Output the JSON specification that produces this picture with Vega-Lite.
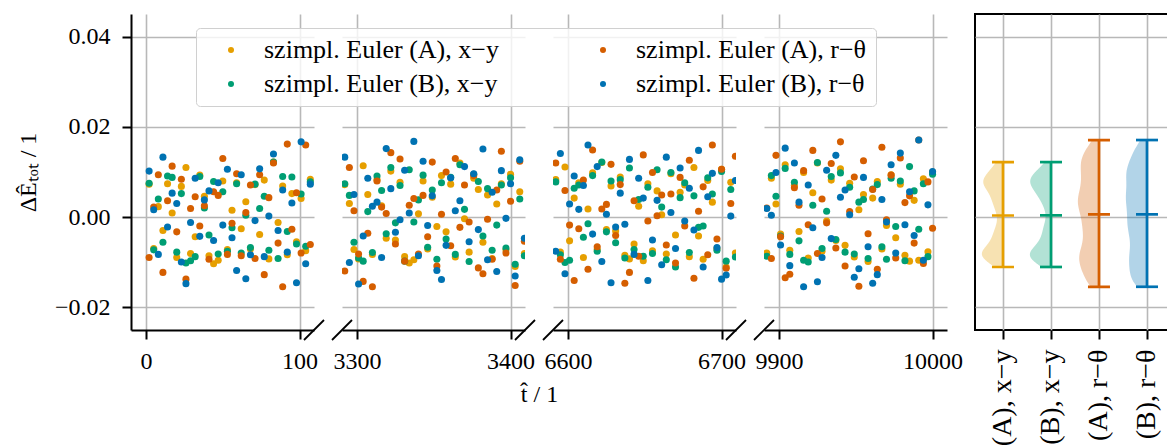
{
"$schema":"https://vega.github.io/schema/vega-lite/v6.json",
"padding":{"left":16,"top":13,"right":0,"bottom":0},
"background":"white",
"config":{
 "font":"Liberation Serif",
 "view":{"stroke":null},
 "axis":{"grid":true,"gridColor":"#b8b8b8","gridWidth":1.6,"domainColor":"#000","domainWidth":2,"tickColor":"#000","tickWidth":2,"tickSize":9,"labelFont":"Liberation Serif","labelFontSize":24,"labelColor":"#000","labelPadding":10,"labelFlush":false,"labelOverlap":false,"labelLimit":1000,"titleFont":"Liberation Serif","titleFontSize":24,"titleColor":"#000","titleFontWeight":"normal"},
 "axisY":{"labels":false,"ticks":false,"domain":false}
},
"datasets":{"d":[
{"t":2,"s":"a","v":0.0073},{"t":5,"s":"a","v":-0.007},{"t":8,"s":"a","v":0.0023},{"t":11,"s":"a","v":-0.003},{"t":14,"s":"a","v":0.0074},{"t":17,"s":"a","v":0.0009},{"t":20,"s":"a","v":-0.009},{"t":23,"s":"a","v":0.0068},{"t":26,"s":"a","v":0.011},{"t":29,"s":"a","v":-0.0081},{"t":32,"s":"a","v":-0.0044},{"t":35,"s":"a","v":0.0093},{"t":38,"s":"a","v":0.0046},{"t":41,"s":"a","v":-0.0086},{"t":44,"s":"a","v":-0.0104},{"t":47,"s":"a","v":-0.0096},{"t":50,"s":"a","v":0.008},{"t":53,"s":"a","v":-0.0072},{"t":56,"s":"a","v":0.0015},{"t":59,"s":"a","v":0.0076},{"t":62,"s":"a","v":-0.0026},{"t":65,"s":"a","v":0.0034},{"t":68,"s":"a","v":-0.0071},{"t":71,"s":"a","v":0.0072},{"t":74,"s":"a","v":-0.0039},{"t":77,"s":"a","v":0.0082},{"t":80,"s":"a","v":-0.0093},{"t":83,"s":"a","v":0.0122},{"t":86,"s":"a","v":-0.0012},{"t":89,"s":"a","v":0.0069},{"t":92,"s":"a","v":-0.0084},{"t":95,"s":"a","v":0.0052},{"t":98,"s":"a","v":-0.0055},{"t":101,"s":"a","v":0.0041},{"t":104,"s":"a","v":-0.0075},{"t":107,"s":"a","v":0.0084},
{"t":3292,"s":"a","v":0.0072},{"t":3295,"s":"a","v":0.003},{"t":3298,"s":"a","v":-0.0072},{"t":3301,"s":"a","v":-0.0093},{"t":3304,"s":"a","v":0.0114},{"t":3307,"s":"a","v":0.005},{"t":3310,"s":"a","v":-0.0083},{"t":3313,"s":"a","v":0.0083},{"t":3316,"s":"a","v":0.0025},{"t":3319,"s":"a","v":-0.0047},{"t":3322,"s":"a","v":0.0102},{"t":3325,"s":"a","v":-0.0051},{"t":3328,"s":"a","v":0.0077},{"t":3331,"s":"a","v":-0.0088},{"t":3334,"s":"a","v":-0.0102},{"t":3337,"s":"a","v":-0.0095},{"t":3340,"s":"a","v":0.0007},{"t":3343,"s":"a","v":0.008},{"t":3346,"s":"a","v":-0.0071},{"t":3349,"s":"a","v":0.0044},{"t":3352,"s":"a","v":-0.0021},{"t":3355,"s":"a","v":0.0092},{"t":3358,"s":"a","v":-0.0033},{"t":3361,"s":"a","v":0.0073},{"t":3364,"s":"a","v":-0.0089},{"t":3367,"s":"a","v":0.012},{"t":3370,"s":"a","v":-0.0004},{"t":3373,"s":"a","v":-0.0078},{"t":3376,"s":"a","v":0.0086},{"t":3379,"s":"a","v":0.0061},{"t":3382,"s":"a","v":-0.0056},{"t":3385,"s":"a","v":0.0049},{"t":3388,"s":"a","v":-0.0092},{"t":3391,"s":"a","v":0.0029},{"t":3394,"s":"a","v":0.0074},{"t":3397,"s":"a","v":-0.0073},{"t":3400,"s":"a","v":0.0095},{"t":3403,"s":"a","v":-0.011},{"t":3406,"s":"a","v":0.0056},{"t":3409,"s":"a","v":-0.0081},
{"t":6592,"s":"a","v":0.0083},{"t":6595,"s":"a","v":-0.0078},{"t":6598,"s":"a","v":0.0111},{"t":6601,"s":"a","v":-0.0053},{"t":6604,"s":"a","v":0.0042},{"t":6607,"s":"a","v":0.0076},{"t":6610,"s":"a","v":-0.009},{"t":6613,"s":"a","v":0.0018},{"t":6616,"s":"a","v":0.0098},{"t":6619,"s":"a","v":-0.0072},{"t":6622,"s":"a","v":0.0121},{"t":6625,"s":"a","v":-0.0028},{"t":6628,"s":"a","v":0.0069},{"t":6631,"s":"a","v":-0.0031},{"t":6634,"s":"a","v":0.0089},{"t":6637,"s":"a","v":-0.0085},{"t":6640,"s":"a","v":-0.0093},{"t":6643,"s":"a","v":-0.006},{"t":6646,"s":"a","v":0.0024},{"t":6649,"s":"a","v":-0.0097},{"t":6652,"s":"a","v":0.0074},{"t":6655,"s":"a","v":-0.0075},{"t":6658,"s":"a","v":0.0058},{"t":6661,"s":"a","v":0.0005},{"t":6664,"s":"a","v":-0.0082},{"t":6667,"s":"a","v":0.0096},{"t":6670,"s":"a","v":-0.004},{"t":6673,"s":"a","v":0.0055},{"t":6676,"s":"a","v":0.0071},{"t":6679,"s":"a","v":-0.0088},{"t":6682,"s":"a","v":0.011},{"t":6685,"s":"a","v":-0.0042},{"t":6688,"s":"a","v":-0.0094},{"t":6691,"s":"a","v":0.0081},{"t":6694,"s":"a","v":0.0033},{"t":6697,"s":"a","v":-0.007},{"t":6700,"s":"a","v":0.0106},{"t":6703,"s":"a","v":-0.0111},{"t":6706,"s":"a","v":0.0077},{"t":6709,"s":"a","v":-0.008},
{"t":9892,"s":"a","v":-0.008},{"t":9895,"s":"a","v":0.0086},{"t":9898,"s":"a","v":0.0029},{"t":9901,"s":"a","v":-0.0038},{"t":9904,"s":"a","v":0.0116},{"t":9907,"s":"a","v":-0.0074},{"t":9910,"s":"a","v":0.007},{"t":9913,"s":"a","v":-0.0032},{"t":9916,"s":"a","v":0.0099},{"t":9919,"s":"a","v":-0.0091},{"t":9922,"s":"a","v":0.0054},{"t":9925,"s":"a","v":0.012},{"t":9928,"s":"a","v":-0.0076},{"t":9931,"s":"a","v":-0.0009},{"t":9934,"s":"a","v":0.0082},{"t":9937,"s":"a","v":-0.0052},{"t":9940,"s":"a","v":0.0107},{"t":9943,"s":"a","v":-0.0063},{"t":9946,"s":"a","v":0.0075},{"t":9949,"s":"a","v":-0.0089},{"t":9952,"s":"a","v":0.0016},{"t":9955,"s":"a","v":0.005},{"t":9958,"s":"a","v":-0.0099},{"t":9961,"s":"a","v":0.0042},{"t":9964,"s":"a","v":0.0079},{"t":9967,"s":"a","v":-0.0071},{"t":9970,"s":"a","v":-0.0019},{"t":9973,"s":"a","v":0.0094},{"t":9976,"s":"a","v":-0.0046},{"t":9979,"s":"a","v":0.0073},{"t":9982,"s":"a","v":-0.0085},{"t":9985,"s":"a","v":-0.0098},{"t":9988,"s":"a","v":0.0037},{"t":9991,"s":"a","v":-0.0096},{"t":9994,"s":"a","v":0.0085},{"t":9997,"s":"a","v":-0.0077},{"t":10000,"s":"a","v":0.01},
{"t":2,"s":"b","v":0.0075},{"t":5,"s":"b","v":-0.0073},{"t":8,"s":"b","v":0.004},{"t":11,"s":"b","v":-0.0056},{"t":14,"s":"b","v":0.0091},{"t":17,"s":"b","v":0.0088},{"t":20,"s":"b","v":-0.0078},{"t":23,"s":"b","v":0.0052},{"t":26,"s":"b","v":-0.0102},{"t":29,"s":"b","v":-0.0097},{"t":32,"s":"b","v":-0.0088},{"t":35,"s":"b","v":0.009},{"t":38,"s":"b","v":0.002},{"t":41,"s":"b","v":-0.004},{"t":44,"s":"b","v":0.0079},{"t":47,"s":"b","v":-0.0082},{"t":50,"s":"b","v":0.0056},{"t":53,"s":"b","v":-0.0076},{"t":56,"s":"b","v":-0.0024},{"t":59,"s":"b","v":0.0074},{"t":62,"s":"b","v":-0.008},{"t":65,"s":"b","v":0.0004},{"t":68,"s":"b","v":-0.0068},{"t":71,"s":"b","v":0.0073},{"t":74,"s":"b","v":0.0019},{"t":77,"s":"b","v":0.0046},{"t":80,"s":"b","v":-0.0074},{"t":83,"s":"b","v":0.0122},{"t":86,"s":"b","v":-0.0092},{"t":89,"s":"b","v":0.009},{"t":92,"s":"b","v":-0.0032},{"t":95,"s":"b","v":0.0089},{"t":98,"s":"b","v":-0.006},{"t":101,"s":"b","v":0.0051},{"t":104,"s":"b","v":-0.0065},{"t":107,"s":"b","v":0.0078},
{"t":3292,"s":"b","v":0.0074},{"t":3295,"s":"b","v":0.0048},{"t":3298,"s":"b","v":-0.0056},{"t":3301,"s":"b","v":-0.0091},{"t":3304,"s":"b","v":-0.0098},{"t":3307,"s":"b","v":0.0012},{"t":3310,"s":"b","v":-0.0079},{"t":3313,"s":"b","v":0.0091},{"t":3316,"s":"b","v":0.0059},{"t":3319,"s":"b","v":-0.0037},{"t":3322,"s":"b","v":0.011},{"t":3325,"s":"b","v":-0.0013},{"t":3328,"s":"b","v":0.007},{"t":3331,"s":"b","v":-0.0098},{"t":3334,"s":"b","v":0.0105},{"t":3337,"s":"b","v":-0.0011},{"t":3340,"s":"b","v":0.0038},{"t":3343,"s":"b","v":0.0093},{"t":3346,"s":"b","v":-0.0067},{"t":3349,"s":"b","v":0.006},{"t":3352,"s":"b","v":-0.0094},{"t":3355,"s":"b","v":0.0076},{"t":3358,"s":"b","v":-0.0049},{"t":3361,"s":"b","v":0.0088},{"t":3364,"s":"b","v":-0.0083},{"t":3367,"s":"b","v":0.0116},{"t":3370,"s":"b","v":0.0017},{"t":3373,"s":"b","v":-0.0099},{"t":3376,"s":"b","v":0.0095},{"t":3379,"s":"b","v":0.0079},{"t":3382,"s":"b","v":-0.0042},{"t":3385,"s":"b","v":0.0063},{"t":3388,"s":"b","v":-0.0074},{"t":3391,"s":"b","v":-0.0018},{"t":3394,"s":"b","v":0.0071},{"t":3397,"s":"b","v":-0.0069},{"t":3400,"s":"b","v":0.0087},{"t":3403,"s":"b","v":-0.0105},{"t":3406,"s":"b","v":0.004},{"t":3409,"s":"b","v":-0.0086},
{"t":6592,"s":"b","v":0.0078},{"t":6595,"s":"b","v":-0.0084},{"t":6598,"s":"b","v":-0.0101},{"t":6601,"s":"b","v":-0.0096},{"t":6604,"s":"b","v":0.0064},{"t":6607,"s":"b","v":0.0071},{"t":6610,"s":"b","v":-0.0045},{"t":6613,"s":"b","v":-0.0015},{"t":6616,"s":"b","v":0.0092},{"t":6619,"s":"b","v":-0.0076},{"t":6622,"s":"b","v":0.0122},{"t":6625,"s":"b","v":-0.0033},{"t":6628,"s":"b","v":0.008},{"t":6631,"s":"b","v":-0.0057},{"t":6634,"s":"b","v":0.0083},{"t":6637,"s":"b","v":-0.0091},{"t":6640,"s":"b","v":0.0109},{"t":6643,"s":"b","v":-0.0072},{"t":6646,"s":"b","v":0.0039},{"t":6649,"s":"b","v":-0.0087},{"t":6652,"s":"b","v":0.0066},{"t":6655,"s":"b","v":-0.0081},{"t":6658,"s":"b","v":0.0105},{"t":6661,"s":"b","v":0.0022},{"t":6664,"s":"b","v":-0.0095},{"t":6667,"s":"b","v":0.0099},{"t":6670,"s":"b","v":-0.0111},{"t":6673,"s":"b","v":0.0043},{"t":6676,"s":"b","v":0.0076},{"t":6679,"s":"b","v":-0.0079},{"t":6682,"s":"b","v":0.0047},{"t":6685,"s":"b","v":-0.0023},{"t":6688,"s":"b","v":-0.002},{"t":6691,"s":"b","v":0.0087},{"t":6694,"s":"b","v":0.0051},{"t":6697,"s":"b","v":-0.0074},{"t":6700,"s":"b","v":0.0101},{"t":6703,"s":"b","v":-0.0098},{"t":6706,"s":"b","v":0.0061},{"t":6709,"s":"b","v":-0.0089},
{"t":9892,"s":"b","v":-0.0087},{"t":9895,"s":"b","v":0.0092},{"t":9898,"s":"b","v":0.0046},{"t":9901,"s":"b","v":-0.0042},{"t":9904,"s":"b","v":0.0108},{"t":9907,"s":"b","v":-0.0083},{"t":9910,"s":"b","v":0.0077},{"t":9913,"s":"b","v":-0.0053},{"t":9916,"s":"b","v":-0.0096},{"t":9919,"s":"b","v":-0.01},{"t":9922,"s":"b","v":0.0026},{"t":9925,"s":"b","v":0.0121},{"t":9928,"s":"b","v":-0.007},{"t":9931,"s":"b","v":0.0013},{"t":9934,"s":"b","v":0.009},{"t":9937,"s":"b","v":-0.005},{"t":9940,"s":"b","v":0.0098},{"t":9943,"s":"b","v":-0.0078},{"t":9946,"s":"b","v":0.0066},{"t":9949,"s":"b","v":-0.0082},{"t":9952,"s":"b","v":0.0033},{"t":9955,"s":"b","v":0.0039},{"t":9958,"s":"b","v":-0.0092},{"t":9961,"s":"b","v":0.0062},{"t":9964,"s":"b","v":0.0072},{"t":9967,"s":"b","v":-0.0066},{"t":9970,"s":"b","v":-0.0094},{"t":9973,"s":"b","v":0.0086},{"t":9976,"s":"b","v":-0.0021},{"t":9979,"s":"b","v":0.008},{"t":9982,"s":"b","v":-0.0097},{"t":9985,"s":"b","v":0.0112},{"t":9988,"s":"b","v":0.0058},{"t":9991,"s":"b","v":-0.0027},{"t":9994,"s":"b","v":0.0074},{"t":9997,"s":"b","v":-0.0088},{"t":10000,"s":"b","v":0.0095},
{"t":2,"s":"c","v":-0.009},{"t":5,"s":"c","v":0.0022},{"t":8,"s":"c","v":0.0094},{"t":11,"s":"c","v":-0.0123},{"t":14,"s":"c","v":0.0036},{"t":17,"s":"c","v":0.0113},{"t":20,"s":"c","v":-0.0033},{"t":23,"s":"c","v":0.0084},{"t":26,"s":"c","v":-0.0138},{"t":29,"s":"c","v":0.0019},{"t":32,"s":"c","v":0.0045},{"t":35,"s":"c","v":-0.002},{"t":38,"s":"c","v":0.0025},{"t":41,"s":"c","v":-0.0094},{"t":44,"s":"c","v":0.0056},{"t":47,"s":"c","v":0.0048},{"t":50,"s":"c","v":0.013},{"t":53,"s":"c","v":-0.0083},{"t":56,"s":"c","v":-0.0014},{"t":59,"s":"c","v":0.0096},{"t":62,"s":"c","v":-0.0086},{"t":65,"s":"c","v":0.001},{"t":68,"s":"c","v":0.0071},{"t":71,"s":"c","v":-0.0092},{"t":74,"s":"c","v":0.0094},{"t":77,"s":"c","v":-0.0128},{"t":80,"s":"c","v":0.0043},{"t":83,"s":"c","v":0.012},{"t":86,"s":"c","v":-0.0058},{"t":89,"s":"c","v":-0.0155},{"t":92,"s":"c","v":0.0162},{"t":95,"s":"c","v":-0.0027},{"t":98,"s":"c","v":0.0054},{"t":101,"s":"c","v":-0.008},{"t":104,"s":"c","v":0.016},{"t":107,"s":"c","v":-0.0061},
{"t":3292,"s":"c","v":-0.012},{"t":3295,"s":"c","v":0.011},{"t":3298,"s":"c","v":0.0014},{"t":3301,"s":"c","v":-0.0082},{"t":3304,"s":"c","v":-0.0143},{"t":3307,"s":"c","v":-0.0036},{"t":3310,"s":"c","v":-0.0155},{"t":3313,"s":"c","v":0.008},{"t":3316,"s":"c","v":0.0022},{"t":3319,"s":"c","v":0.0008},{"t":3322,"s":"c","v":0.0143},{"t":3325,"s":"c","v":-0.006},{"t":3328,"s":"c","v":0.0129},{"t":3331,"s":"c","v":-0.0098},{"t":3334,"s":"c","v":0.0026},{"t":3337,"s":"c","v":0.0041},{"t":3340,"s":"c","v":-0.0082},{"t":3343,"s":"c","v":0.0048},{"t":3346,"s":"c","v":-0.0044},{"t":3349,"s":"c","v":0.0122},{"t":3352,"s":"c","v":-0.0109},{"t":3355,"s":"c","v":0.0006},{"t":3358,"s":"c","v":0.01},{"t":3361,"s":"c","v":-0.0064},{"t":3364,"s":"c","v":0.013},{"t":3367,"s":"c","v":-0.0023},{"t":3370,"s":"c","v":0.0071},{"t":3373,"s":"c","v":-0.0011},{"t":3376,"s":"c","v":0.0092},{"t":3379,"s":"c","v":-0.0113},{"t":3382,"s":"c","v":-0.0126},{"t":3385,"s":"c","v":-0.0005},{"t":3388,"s":"c","v":-0.0094},{"t":3391,"s":"c","v":0.006},{"t":3394,"s":"c","v":0.0146},{"t":3397,"s":"c","v":-0.008},{"t":3400,"s":"c","v":0.0035},{"t":3403,"s":"c","v":-0.0152},{"t":3406,"s":"c","v":0.0124},{"t":3409,"s":"c","v":-0.0054},
{"t":6592,"s":"c","v":0.012},{"t":6595,"s":"c","v":-0.0094},{"t":6598,"s":"c","v":0.0059},{"t":6601,"s":"c","v":-0.0018},{"t":6604,"s":"c","v":-0.0141},{"t":6607,"s":"c","v":-0.0026},{"t":6610,"s":"c","v":0.0082},{"t":6613,"s":"c","v":-0.0116},{"t":6616,"s":"c","v":0.0149},{"t":6619,"s":"c","v":-0.0066},{"t":6622,"s":"c","v":0.0018},{"t":6625,"s":"c","v":0.0028},{"t":6628,"s":"c","v":0.0117},{"t":6631,"s":"c","v":-0.0041},{"t":6634,"s":"c","v":0.0072},{"t":6637,"s":"c","v":-0.0147},{"t":6640,"s":"c","v":-0.0123},{"t":6643,"s":"c","v":0.0036},{"t":6646,"s":"c","v":-0.0087},{"t":6649,"s":"c","v":0.0138},{"t":6652,"s":"c","v":-0.0009},{"t":6655,"s":"c","v":0.0099},{"t":6658,"s":"c","v":0.0003},{"t":6661,"s":"c","v":0.0049},{"t":6664,"s":"c","v":-0.0062},{"t":6667,"s":"c","v":0.0051},{"t":6670,"s":"c","v":-0.0102},{"t":6673,"s":"c","v":0.0088},{"t":6676,"s":"c","v":-0.002},{"t":6679,"s":"c","v":0.0126},{"t":6682,"s":"c","v":-0.0136},{"t":6685,"s":"c","v":0.0013},{"t":6688,"s":"c","v":0.0067},{"t":6691,"s":"c","v":-0.0084},{"t":6694,"s":"c","v":0.016},{"t":6697,"s":"c","v":-0.0049},{"t":6700,"s":"c","v":0.0106},{"t":6703,"s":"c","v":-0.0114},{"t":6706,"s":"c","v":0.003},{"t":6709,"s":"c","v":0.0135},
{"t":9892,"s":"c","v":0.002},{"t":9895,"s":"c","v":-0.0092},{"t":9898,"s":"c","v":0.0137},{"t":9901,"s":"c","v":-0.0044},{"t":9904,"s":"c","v":-0.0135},{"t":9907,"s":"c","v":-0.0127},{"t":9910,"s":"c","v":0.0065},{"t":9913,"s":"c","v":0.0026},{"t":9916,"s":"c","v":0.0103},{"t":9919,"s":"c","v":-0.0017},{"t":9922,"s":"c","v":0.0148},{"t":9925,"s":"c","v":-0.0081},{"t":9928,"s":"c","v":0.004},{"t":9931,"s":"c","v":-0.0013},{"t":9934,"s":"c","v":0.0119},{"t":9937,"s":"c","v":-0.0069},{"t":9940,"s":"c","v":0.0167},{"t":9943,"s":"c","v":-0.0109},{"t":9946,"s":"c","v":0.0012},{"t":9949,"s":"c","v":0.0089},{"t":9952,"s":"c","v":-0.0154},{"t":9955,"s":"c","v":0.0125},{"t":9958,"s":"c","v":-0.0037},{"t":9961,"s":"c","v":0.0061},{"t":9964,"s":"c","v":-0.0116},{"t":9967,"s":"c","v":0.0155},{"t":9970,"s":"c","v":-0.0006},{"t":9973,"s":"c","v":0.0093},{"t":9976,"s":"c","v":-0.0091},{"t":9979,"s":"c","v":0.0131},{"t":9982,"s":"c","v":0.0032},{"t":9985,"s":"c","v":0.0047},{"t":9988,"s":"c","v":-0.0058},{"t":9991,"s":"c","v":0.0171},{"t":9994,"s":"c","v":-0.0103},{"t":9997,"s":"c","v":0.0078},{"t":10000,"s":"c","v":-0.0025},
{"t":2,"s":"d","v":0.0102},{"t":5,"s":"d","v":0.0016},{"t":8,"s":"d","v":-0.0083},{"t":11,"s":"d","v":0.0133},{"t":14,"s":"d","v":-0.0022},{"t":17,"s":"d","v":0.0053},{"t":20,"s":"d","v":0.003},{"t":23,"s":"d","v":-0.01},{"t":26,"s":"d","v":-0.0148},{"t":29,"s":"d","v":-0.0012},{"t":32,"s":"d","v":0.0086},{"t":35,"s":"d","v":-0.0043},{"t":38,"s":"d","v":0.0038},{"t":41,"s":"d","v":0.0058},{"t":44,"s":"d","v":-0.0052},{"t":47,"s":"d","v":0.0076},{"t":50,"s":"d","v":-0.0018},{"t":53,"s":"d","v":0.0106},{"t":56,"s":"d","v":-0.0046},{"t":59,"s":"d","v":-0.0119},{"t":62,"s":"d","v":0.0094},{"t":65,"s":"d","v":-0.0137},{"t":68,"s":"d","v":-0.0084},{"t":71,"s":"d","v":-0.0008},{"t":74,"s":"d","v":0.0107},{"t":77,"s":"d","v":-0.0088},{"t":80,"s":"d","v":0.0002},{"t":83,"s":"d","v":0.014},{"t":86,"s":"d","v":-0.003},{"t":89,"s":"d","v":0.006},{"t":92,"s":"d","v":-0.0078},{"t":95,"s":"d","v":0.0031},{"t":98,"s":"d","v":-0.0146},{"t":101,"s":"d","v":0.0167},{"t":104,"s":"d","v":-0.0104},{"t":107,"s":"d","v":0.0073},
{"t":3292,"s":"d","v":0.0133},{"t":3295,"s":"d","v":-0.0101},{"t":3298,"s":"d","v":0.005},{"t":3301,"s":"d","v":-0.0149},{"t":3304,"s":"d","v":-0.0042},{"t":3307,"s":"d","v":0.0086},{"t":3310,"s":"d","v":0.0024},{"t":3313,"s":"d","v":0.0033},{"t":3316,"s":"d","v":-0.009},{"t":3319,"s":"d","v":0.0152},{"t":3322,"s":"d","v":0.0063},{"t":3325,"s":"d","v":-0.0034},{"t":3328,"s":"d","v":-0.0006},{"t":3331,"s":"d","v":0.0104},{"t":3334,"s":"d","v":0.0009},{"t":3337,"s":"d","v":0.0168},{"t":3340,"s":"d","v":-0.0086},{"t":3343,"s":"d","v":0.0124},{"t":3346,"s":"d","v":-0.0019},{"t":3349,"s":"d","v":0.0047},{"t":3352,"s":"d","v":-0.0119},{"t":3355,"s":"d","v":-0.0139},{"t":3358,"s":"d","v":-0.0063},{"t":3361,"s":"d","v":0.0087},{"t":3364,"s":"d","v":0.0014},{"t":3367,"s":"d","v":0.0036},{"t":3370,"s":"d","v":0.0112},{"t":3373,"s":"d","v":-0.0055},{"t":3376,"s":"d","v":0.0096},{"t":3379,"s":"d","v":-0.0028},{"t":3382,"s":"d","v":0.0151},{"t":3385,"s":"d","v":-0.0095},{"t":3388,"s":"d","v":0.0055},{"t":3391,"s":"d","v":-0.0121},{"t":3394,"s":"d","v":0.0103},{"t":3397,"s":"d","v":-0.0003},{"t":3400,"s":"d","v":0.0074},{"t":3403,"s":"d","v":-0.0131},{"t":3406,"s":"d","v":0.0127},{"t":3409,"s":"d","v":-0.0047},
{"t":6592,"s":"d","v":-0.0076},{"t":6595,"s":"d","v":0.0141},{"t":6598,"s":"d","v":-0.0126},{"t":6601,"s":"d","v":0.0029},{"t":6604,"s":"d","v":0.0091},{"t":6607,"s":"d","v":0.0017},{"t":6610,"s":"d","v":0.007},{"t":6613,"s":"d","v":0.016},{"t":6616,"s":"d","v":-0.0038},{"t":6619,"s":"d","v":0.0112},{"t":6622,"s":"d","v":-0.0099},{"t":6625,"s":"d","v":0.0006},{"t":6628,"s":"d","v":-0.0146},{"t":6631,"s":"d","v":-0.0022},{"t":6634,"s":"d","v":0.0053},{"t":6637,"s":"d","v":-0.0016},{"t":6640,"s":"d","v":0.0128},{"t":6643,"s":"d","v":-0.0083},{"t":6646,"s":"d","v":0.0086},{"t":6649,"s":"d","v":0.0042},{"t":6652,"s":"d","v":-0.0141},{"t":6655,"s":"d","v":-0.0051},{"t":6658,"s":"d","v":0.0037},{"t":6661,"s":"d","v":-0.0106},{"t":6664,"s":"d","v":0.0133},{"t":6667,"s":"d","v":0.001},{"t":6670,"s":"d","v":-0.007},{"t":6673,"s":"d","v":0.0109},{"t":6676,"s":"d","v":-0.0009},{"t":6679,"s":"d","v":0.0064},{"t":6682,"s":"d","v":-0.0029},{"t":6685,"s":"d","v":0.0148},{"t":6688,"s":"d","v":-0.0111},{"t":6691,"s":"d","v":0.0045},{"t":6694,"s":"d","v":0.0097},{"t":6697,"s":"d","v":-0.0068},{"t":6700,"s":"d","v":-0.0138},{"t":6703,"s":"d","v":-0.0129},{"t":6706,"s":"d","v":0.0002},{"t":6709,"s":"d","v":0.0081},
{"t":9892,"s":"d","v":0.0019},{"t":9895,"s":"d","v":0.0004},{"t":9898,"s":"d","v":0.0099},{"t":9901,"s":"d","v":-0.0062},{"t":9904,"s":"d","v":0.0153},{"t":9907,"s":"d","v":-0.0108},{"t":9910,"s":"d","v":0.012},{"t":9913,"s":"d","v":0.0033},{"t":9916,"s":"d","v":-0.0155},{"t":9919,"s":"d","v":0.0071},{"t":9922,"s":"d","v":-0.0024},{"t":9925,"s":"d","v":-0.0144},{"t":9928,"s":"d","v":-0.009},{"t":9931,"s":"d","v":0.0104},{"t":9934,"s":"d","v":-0.0048},{"t":9937,"s":"d","v":0.0137},{"t":9940,"s":"d","v":0.0044},{"t":9943,"s":"d","v":0.006},{"t":9946,"s":"d","v":0.0005},{"t":9949,"s":"d","v":-0.0134},{"t":9952,"s":"d","v":-0.0115},{"t":9955,"s":"d","v":0.0088},{"t":9958,"s":"d","v":-0.0066},{"t":9961,"s":"d","v":-0.0147},{"t":9964,"s":"d","v":-0.0128},{"t":9967,"s":"d","v":0.0039},{"t":9970,"s":"d","v":-0.0011},{"t":9973,"s":"d","v":0.0116},{"t":9976,"s":"d","v":-0.008},{"t":9979,"s":"d","v":0.0142},{"t":9982,"s":"d","v":-0.0017},{"t":9985,"s":"d","v":0.0056},{"t":9988,"s":"d","v":-0.0041},{"t":9991,"s":"d","v":0.0171},{"t":9994,"s":"d","v":-0.0096},{"t":9997,"s":"d","v":0.0027},{"t":10000,"s":"d","v":0.0101}
]},
"hconcat":[
{"width":183,"height":316,"data":{"name":"d"},"layer":[
 {"transform":[{"filter":"datum.t < 1000"}],
  "mark":{"type":"point","filled":true,"size":50,"opacity":1,"strokeWidth":0,"clip":true},
  "encoding":{
   "x":{"field":"t","type":"quantitative","scale":{"domain":[-9.8,109.4],"nice":false,"zero":false},"axis":{"values":[0,100],"format":"d","title":null}},
   "y":{"field":"v","type":"quantitative","scale":{"domain":[-0.0251,0.0451],"nice":false,"zero":false},"axis":{"values":[-0.02,0,0.02,0.04],"format":".2f","title":"ΔÊₜₒₜ / 1","labels":true,"ticks":true,"domain":true,"labelPadding":12,"titlePadding":14}},
   "color":{"field":"s","type":"nominal","scale":{"domain":["a","b","c","d"],"range":["#E69F00","#009E73","#D55E00","#0072B2"]},
    "legend":{"orient":"none","legendX":65,"legendY":14,"columns":2,"title":null,"symbolType":"circle","symbolSize":36,"symbolOpacity":1,"symbolStrokeWidth":0,"symbolOffset":13,"labelOffset":20,"labelFont":"Liberation Serif","labelFontSize":26,"labelColor":"#000","labelLimit":600,"columnPadding":78,"rowPadding":8,"padding":9,"fillColor":"rgba(255,255,255,0.8)","strokeColor":"#d0d0d0","cornerRadius":4,
     "labelExpr":"{'a':'szimpl. Euler (A), x−y','b':'szimpl. Euler (B), x−y','c':'szimpl. Euler (A), r−θ','d':'szimpl. Euler (B), r−θ'}[datum.label]"}}
  }},
 {"data":{"values":[{}]},"mark":{"type":"point","shape":"M-1,1L1,-1","size":400,"filled":false,"stroke":"#000","strokeWidth":1.8,"opacity":1,"clip":false},
  "encoding":{"x":{"datum":109.4,"type":"quantitative"},"y":{"datum":-0.0251,"type":"quantitative"}}}
]},
{"width":183,"height":316,"data":{"name":"d"},"layer":[
 {"transform":[{"filter":"datum.t > 3000 && datum.t < 4000"}],
  "mark":{"type":"point","filled":true,"size":50,"opacity":1,"strokeWidth":0,"clip":true},
  "encoding":{
   "x":{"field":"t","type":"quantitative","scale":{"domain":[3290.2,3409.4],"nice":false,"zero":false},"axis":{"values":[3300,3400],"format":"d","title":"t̂ / 1","titleX":197,"titleY":64,"titleAlign":"center","titleBaseline":"middle"}},
   "y":{"field":"v","type":"quantitative","scale":{"domain":[-0.0251,0.0451],"nice":false,"zero":false},"axis":{"values":[-0.02,0,0.02,0.04],"title":null}},
   "color":{"field":"s","type":"nominal"}
  }},
 {"data":{"values":[{}]},"mark":{"type":"point","shape":"M-1,1L1,-1","size":400,"filled":false,"stroke":"#000","strokeWidth":1.8,"opacity":1,"clip":false},
  "encoding":{"x":{"datum":3290.2,"type":"quantitative"},"y":{"datum":-0.0251,"type":"quantitative"}}},
 {"data":{"values":[{}]},"mark":{"type":"point","shape":"M-1,1L1,-1","size":400,"filled":false,"stroke":"#000","strokeWidth":1.8,"opacity":1,"clip":false},
  "encoding":{"x":{"datum":3409.4,"type":"quantitative"},"y":{"datum":-0.0251,"type":"quantitative"}}}
]},
{"width":183,"height":316,"data":{"name":"d"},"layer":[
 {"transform":[{"filter":"datum.t > 6000 && datum.t < 7000"}],
  "mark":{"type":"point","filled":true,"size":50,"opacity":1,"strokeWidth":0,"clip":true},
  "encoding":{
   "x":{"field":"t","type":"quantitative","scale":{"domain":[6590.2,6709.4],"nice":false,"zero":false},"axis":{"values":[6600,6700],"format":"d","title":null}},
   "y":{"field":"v","type":"quantitative","scale":{"domain":[-0.0251,0.0451],"nice":false,"zero":false},"axis":{"values":[-0.02,0,0.02,0.04],"title":null}},
   "color":{"field":"s","type":"nominal"}
  }},
 {"data":{"values":[{}]},"mark":{"type":"point","shape":"M-1,1L1,-1","size":400,"filled":false,"stroke":"#000","strokeWidth":1.8,"opacity":1,"clip":false},
  "encoding":{"x":{"datum":6590.2,"type":"quantitative"},"y":{"datum":-0.0251,"type":"quantitative"}}},
 {"data":{"values":[{}]},"mark":{"type":"point","shape":"M-1,1L1,-1","size":400,"filled":false,"stroke":"#000","strokeWidth":1.8,"opacity":1,"clip":false},
  "encoding":{"x":{"datum":6709.4,"type":"quantitative"},"y":{"datum":-0.0251,"type":"quantitative"}}}
]},
{"width":183,"height":316,"data":{"name":"d"},"layer":[
 {"transform":[{"filter":"datum.t > 9000"}],
  "mark":{"type":"point","filled":true,"size":50,"opacity":1,"strokeWidth":0,"clip":true},
  "encoding":{
   "x":{"field":"t","type":"quantitative","scale":{"domain":[9890.2,10009.4],"nice":false,"zero":false},"axis":{"values":[9900,10000],"format":"d","title":null}},
   "y":{"field":"v","type":"quantitative","scale":{"domain":[-0.0251,0.0451],"nice":false,"zero":false},"axis":{"values":[-0.02,0,0.02,0.04],"title":null}},
   "color":{"field":"s","type":"nominal"}
  }},
 {"data":{"values":[{}]},"mark":{"type":"point","shape":"M-1,1L1,-1","size":400,"filled":false,"stroke":"#000","strokeWidth":1.8,"opacity":1,"clip":false},
  "encoding":{"x":{"datum":9890.2,"type":"quantitative"},"y":{"datum":-0.0251,"type":"quantitative"}}}
]},
{"width":204,"height":316,"view":{"stroke":"#000","strokeWidth":2},"data":{"name":"d"},"layer":[
 {"transform":[{"filter":"datum.s == 'a' || datum.s == 'b'"},{"density":"v","groupby":["s"],"bandwidth":0.0017,"extent":[-0.0111,0.0122],"steps":120,"as":["v","dens"]},{"joinaggregate":[{"op":"max","field":"dens","as":"mxd"}],"groupby":["s"]},{"calculate":"indexof(['a','b','c','d'], datum.s)","as":"c"},{"calculate":"datum.c - 0.44*datum.dens/datum.mxd","as":"xl"}],
  "mark":{"type":"area","orient":"horizontal","opacity":0.3},
  "encoding":{
   "x":{"field":"xl","type":"quantitative","scale":{"domain":[-0.583,3.667],"nice":false,"zero":false},"axis":{"values":[0,1,2,3],"labelAngle":-90,"domain":false,"title":null,"labelLimit":1000,"labelFontSize":28,"labelExpr":"{'0':'szimpl. Euler (A), x−y','1':'szimpl. Euler (B), x−y','2':'szimpl. Euler (A), r−θ','3':'szimpl. Euler (B), r−θ'}[datum.value]"}},
   "x2":{"field":"c"},
   "y":{"field":"v","type":"quantitative","scale":{"domain":[-0.0251,0.0451],"nice":false,"zero":false},"axis":{"values":[-0.02,0,0.02,0.04],"title":null}},
   "color":{"field":"s","type":"nominal"}
  }},
 {"transform":[{"filter":"datum.s == 'c' || datum.s == 'd'"},{"density":"v","groupby":["s"],"bandwidth":0.0022,"extent":[-0.0155,0.0171],"steps":120,"as":["v","dens"]},{"joinaggregate":[{"op":"max","field":"dens","as":"mxd"}],"groupby":["s"]},{"calculate":"indexof(['a','b','c','d'], datum.s)","as":"c"},{"calculate":"datum.c - 0.44*datum.dens/datum.mxd","as":"xl"}],
  "mark":{"type":"area","orient":"horizontal","opacity":0.3},
  "encoding":{
   "x":{"field":"xl","type":"quantitative","title":null},
   "x2":{"field":"c"},
   "y":{"field":"v","type":"quantitative","title":null},
   "color":{"field":"s","type":"nominal"}
  }},
 {"transform":[{"calculate":"indexof(['a','b','c','d'], datum.s)","as":"c"}],
  "mark":{"type":"rule","strokeWidth":2.7},
  "encoding":{"x":{"field":"c","type":"quantitative","title":null},"y":{"aggregate":"min","field":"v","type":"quantitative","title":null},"y2":{"aggregate":"max","field":"v"},"color":{"field":"s","type":"nominal"}}},
 {"transform":[{"calculate":"indexof(['a','b','c','d'], datum.s)","as":"c"}],
  "mark":{"type":"tick","orient":"horizontal","size":22,"thickness":2.7,"opacity":1},
  "encoding":{"x":{"field":"c","type":"quantitative","title":null},"y":{"aggregate":"min","field":"v","type":"quantitative","title":null},"color":{"field":"s","type":"nominal"}}},
 {"transform":[{"calculate":"indexof(['a','b','c','d'], datum.s)","as":"c"}],
  "mark":{"type":"tick","orient":"horizontal","size":22,"thickness":2.7,"opacity":1},
  "encoding":{"x":{"field":"c","type":"quantitative","title":null},"y":{"aggregate":"max","field":"v","type":"quantitative","title":null},"color":{"field":"s","type":"nominal"}}},
 {"transform":[{"calculate":"indexof(['a','b','c','d'], datum.s)","as":"c"}],
  "mark":{"type":"tick","orient":"horizontal","size":22,"thickness":2.7,"opacity":1},
  "encoding":{"x":{"field":"c","type":"quantitative","title":null},"y":{"aggregate":"mean","field":"v","type":"quantitative","title":null},"color":{"field":"s","type":"nominal"}}}
]}
],
"spacing":28,
"bounds":"flush",
"resolve":{"scale":{"x":"independent","y":"independent","color":"shared"},"legend":{"color":"shared"}}
}
